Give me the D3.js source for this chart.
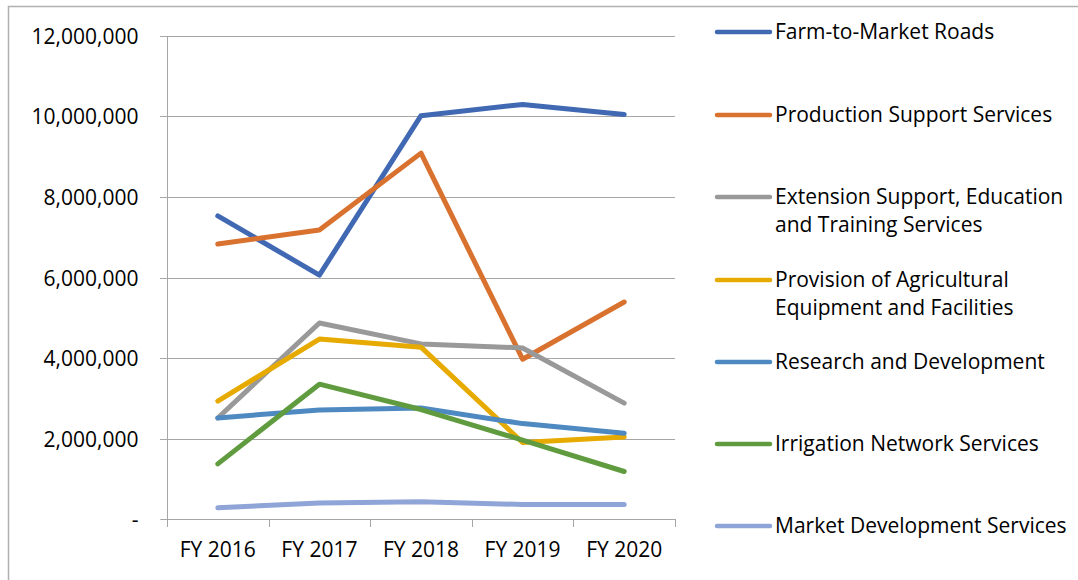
<!DOCTYPE html>
<html>
<head>
<meta charset="utf-8">
<script src="https://cdn.jsdelivr.net/npm/d3@7"></script>
<style>
  html, body { margin: 0; padding: 0; background: #fff; }
  svg { display: block; }
  text { font-family: "Open Sans", "Noto Sans", sans-serif; fill: #000; }
</style>
</head>
<body>
<svg id="chart" width="1078" height="580"></svg>
<script>
// Fiscal years on the category axis
const years = ["FY 2016", "FY 2017", "FY 2018", "FY 2019", "FY 2020"];

// Budget per program (pesos), one array per series
const farmToMarketRoads   = [7530000, 6060000, 10020000, 10300000, 10050000];
const productionSupport   = [6830000, 7180000, 9090000, 3970000, 5390000];
const extensionSupport    = [2510000, 4870000, 4350000, 4250000, 2880000];
const provisionEquipment  = [2930000, 4470000, 4270000, 1900000, 2040000];
const researchDevelopment = [2510000, 2710000, 2760000, 2370000, 2130000];
const irrigationNetwork   = [1370000, 3350000, 2720000, 1960000, 1180000];
const marketDevelopment   = [280000, 400000, 430000, 360000, 360000];

const seriesNames = [
  ["Farm-to-Market Roads"],
  ["Production Support Services"],
  ["Extension Support, Education", "and Training Services"],
  ["Provision of Agricultural", "Equipment and Facilities"],
  ["Research and Development"],
  ["Irrigation Network Services"],
  ["Market Development Services"]
];
const seriesValues = [farmToMarketRoads, productionSupport, extensionSupport,
  provisionEquipment, researchDevelopment, irrigationNetwork, marketDevelopment];
const seriesColors = ["#4169B3", "#D9712F", "#999999", "#E6AA00", "#4E8AC1", "#609C3F", "#8FA4D7"];

const yTicks = [0, 2000000, 4000000, 6000000, 8000000, 10000000, 12000000];

const FONT_SIZE = 21;
const svg = d3.select("#chart");

// outer frame (top and left edges visible)
svg.append("path")
  .attr("d", "M8.5,580 L8.5,6.5 L1078,6.5")
  .attr("fill", "none").attr("stroke", "#B0B0B0").attr("stroke-width", 1.5);

const plot = { left: 167, right: 675, top: 36, bottom: 519 };

const x = d3.scaleBand().domain(years).range([plot.left, plot.right]);
const y = d3.scaleLinear().domain([0, 12000000]).range([plot.bottom, plot.top]);

const fmt = d3.format(",");

// horizontal gridlines
svg.append("g")
  .selectAll("line").data(yTicks.slice(1)).join("line")
  .attr("x1", plot.left - 7).attr("x2", plot.right)
  .attr("y1", d => Math.round(y(d)) + 0.5).attr("y2", d => Math.round(y(d)) + 0.5)
  .attr("stroke", "#A6A6A6").attr("stroke-width", 1);

// y axis
const yAxis = svg.append("g")
  .attr("transform", `translate(${plot.left + 0.5},0)`)
  .call(d3.axisLeft(y).tickValues(yTicks).tickSize(7).tickPadding(22)
    .tickFormat(d => d === 0 ? "-    " : fmt(d)));
yAxis.select(".domain").attr("stroke", "#A6A6A6").attr("d", `M-7,${plot.bottom + 0.5}H0V${plot.top}`);
yAxis.selectAll(".tick line").attr("stroke", "#A6A6A6");
yAxis.selectAll(".tick text").attr("font-size", FONT_SIZE).attr("fill", "#000")
  .style("font-family", "'Open Sans', sans-serif").attr("dy", "0.35em");
yAxis.selectAll(".tick").attr("transform", d => `translate(0,${Math.round(y(d)) + 0.5})`);

// x axis
const xAxis = svg.append("g")
  .attr("transform", `translate(0,${plot.bottom + 0.5})`)
  .call(d3.axisBottom(x).tickSize(0).tickPadding(23));
xAxis.select(".domain").attr("stroke", "#A6A6A6").attr("d", `M${plot.left},0H${plot.right}`);
xAxis.selectAll(".tick text").attr("font-size", FONT_SIZE).attr("fill", "#000")
  .style("font-family", "'Open Sans', sans-serif");
// category boundary tick marks
svg.append("g").selectAll("line")
  .data(years.map(d => x(d)).concat([plot.right])).join("line")
  .attr("x1", d => Math.round(d) + 0.5).attr("x2", d => Math.round(d) + 0.5)
  .attr("y1", plot.bottom).attr("y2", plot.bottom + 8)
  .attr("stroke", "#A6A6A6");

// series lines
const line = d3.line()
  .x((d, i) => x(years[i]) + x.bandwidth() / 2)
  .y(d => y(d));

svg.append("g").selectAll("path").data(seriesValues).join("path")
  .attr("d", d => line(d))
  .attr("fill", "none")
  .attr("stroke", (d, i) => seriesColors[i])
  .attr("stroke-width", 5)
  .attr("stroke-linejoin", "round")
  .attr("stroke-linecap", "round");

// legend
const legendY = [32, 115, 197, 280, 362, 444, 526];
const legend = svg.append("g").selectAll("g").data(seriesNames).join("g")
  .attr("transform", (d, i) => `translate(0,${legendY[i]})`);
legend.append("line")
  .attr("x1", 717).attr("x2", 770).attr("y1", 0).attr("y2", 0)
  .attr("stroke", (d, i) => seriesColors[i])
  .attr("stroke-width", 4.5).attr("stroke-linecap", "round");
legend.append("text")
  .attr("x", 775).attr("y", 0)
  .attr("font-size", FONT_SIZE)
  .selectAll("tspan").data(d => d).join("tspan")
  .attr("x", 775)
  .attr("y", (d, i) => i * 28)
  .attr("dy", "0.35em")
  .text(d => d);
</script>
</body>
</html>
